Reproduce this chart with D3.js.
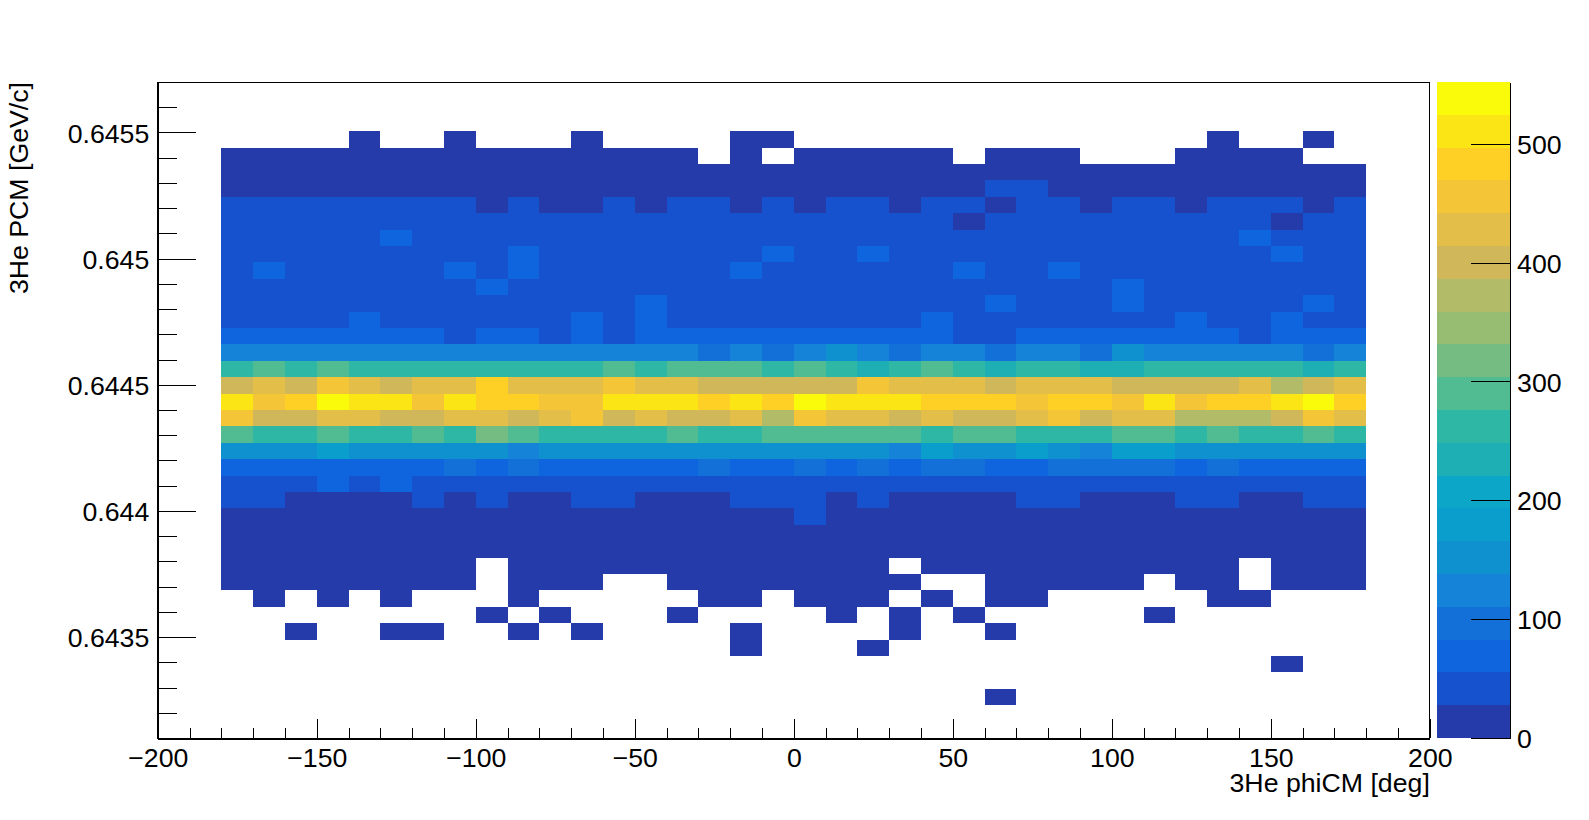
<!DOCTYPE html>
<html>
<head>
<meta charset="utf-8">
<script src="https://cdn.jsdelivr.net/npm/d3@7"></script>
<style>
    html, body { margin: 0; padding: 0; background: #fff; }
    svg { display: block; }
    text { font-family: "Liberation Sans", sans-serif; font-size: 26.7px; fill: #000; }
    line, path, .frame { shape-rendering: crispEdges; }
</style>
</head>
<body>
<svg id="graph" width="1589" height="820"></svg>
<script>
const xMin = -200, xMax = 200;
const yMin = 0.6431, yMax = 0.6457;
const zMax = 552;

const xMajorTicks = [-200, -150, -100, -50, 0, 50, 100, 150, 200];
const yMajorTicks = [0.6435, 0.644, 0.6445, 0.645, 0.6455];
const zTicks = [0, 100, 200, 300, 400, 500];

const xBinStart = -180, xBinWidth = 10;
const yBinWidth = 0.000065;
const yFirstRowTop = 0.645505;

// bin contents, top row first, 36 phi bins per row, 0 = empty bin
const countRows = [
    [0,0,0,0,14,0, 0,14,0,0,0,14, 0,0,0,0,14,14, 0,0,0,0,0,0, 0,0,0,0,0,0, 0,14,0,0,14,0],
    [14,14,14,14,14,14, 14,14,14,14,14,14, 14,14,14,0,14,0, 14,14,14,14,14,0, 14,14,14,0,0,0, 14,14,14,14,0,0],
    [14,14,14,14,14,14, 14,14,14,14,14,14, 14,14,14,14,14,14, 14,14,14,14,14,14, 14,14,14,14,14,14, 14,14,14,14,14,14],
    [14,14,14,14,14,14, 14,14,14,14,14,14, 14,14,14,14,14,14, 14,14,14,14,14,14, 41,41,14,14,14,14, 14,14,14,14,14,14],
    [41,41,41,41,41,41, 41,41,14,41,14,14, 41,14,41,41,14,41, 14,41,41,14,41,41, 14,41,41,14,41,41, 14,41,41,41,14,41],
    [41,41,41,41,41,41, 41,41,41,41,41,41, 41,41,41,41,41,41, 41,41,41,41,41,14, 41,41,41,41,41,41, 41,41,41,14,41,41],
    [41,41,41,41,41,69, 41,41,41,41,41,41, 41,41,41,41,41,41, 41,41,41,41,41,41, 41,41,41,41,41,41, 41,41,69,41,41,41],
    [41,41,41,41,41,41, 41,41,41,69,41,41, 41,41,41,41,41,69, 41,41,69,41,41,41, 41,41,41,41,41,41, 41,41,41,69,41,41],
    [41,69,41,41,41,41, 41,69,41,69,41,41, 41,41,41,41,69,41, 41,41,41,41,41,69, 41,41,69,41,41,41, 41,41,41,41,41,41],
    [41,41,41,41,41,41, 41,41,69,41,41,41, 41,41,41,41,41,41, 41,41,41,41,41,41, 41,41,41,41,69,41, 41,41,41,41,41,41],
    [41,41,41,41,41,41, 41,41,41,41,41,41, 41,69,41,41,41,41, 41,41,41,41,41,41, 69,41,41,41,69,41, 41,41,41,41,69,41],
    [41,41,41,41,69,41, 41,41,41,41,41,69, 41,69,41,41,41,41, 41,41,41,41,69,41, 41,41,41,41,41,41, 69,41,41,69,41,41],
    [69,69,69,69,69,69, 69,41,69,69,41,69, 41,69,69,69,69,69, 69,69,69,69,69,41, 41,69,69,69,69,69, 69,69,41,69,69,69],
    [124,124,124,124,124,124, 124,124,124,124,124,124, 124,124,124,97,124,97, 124,152,124,97,124,124, 97,124,124,97,152,124, 124,124,124,124,97,124],
    [262,290,262,290,262,262, 262,262,262,262,262,262, 290,262,290,290,290,262, 290,262,234,262,290,262, 234,262,262,234,234,262, 262,262,262,262,234,262],
    [400,428,400,455,428,400, 428,428,483,428,428,428, 455,428,428,400,400,400, 400,400,455,428,428,428, 400,428,428,428,400,400, 400,400,428,372,400,428],
    [510,455,483,538,510,510, 455,510,483,483,455,455, 510,510,510,483,510,483, 538,510,510,510,483,483, 483,455,483,483,455,510, 455,483,483,510,538,483],
    [455,400,400,428,428,400, 400,428,428,400,428,455, 400,428,400,400,428,372, 455,428,428,400,428,400, 400,428,455,400,428,428, 372,372,372,400,455,428],
    [290,262,262,290,262,262, 290,262,317,290,262,262, 262,262,290,262,262,290, 290,290,290,290,262,290, 290,262,262,262,290,290, 262,290,262,262,290,262],
    [152,152,152,179,152,152, 152,152,152,124,152,152, 152,152,152,152,152,152, 152,152,152,124,179,152, 152,179,152,124,179,179, 152,152,152,152,152,152],
    [69,69,69,69,69,69, 69,97,69,97,69,69, 69,69,69,97,69,69, 97,69,97,69,97,97, 69,69,97,97,97,97, 69,97,69,69,69,69],
    [41,41,41,69,41,69, 41,41,41,41,41,41, 41,41,41,41,41,41, 41,41,41,41,41,41, 41,41,41,41,41,41, 41,41,41,41,41,41],
    [41,41,14,14,14,14, 41,14,41,14,14,41, 41,14,14,14,41,41, 41,14,41,14,14,14, 14,41,41,14,14,14, 41,41,14,14,41,41],
    [14,14,14,14,14,14, 14,14,14,14,14,14, 14,14,14,14,14,14, 41,14,14,14,14,14, 14,14,14,14,14,14, 14,14,14,14,14,14],
    [14,14,14,14,14,14, 14,14,14,14,14,14, 14,14,14,14,14,14, 14,14,14,14,14,14, 14,14,14,14,14,14, 14,14,14,14,14,14],
    [14,14,14,14,14,14, 14,14,14,14,14,14, 14,14,14,14,14,14, 14,14,14,14,14,14, 14,14,14,14,14,14, 14,14,14,14,14,14],
    [14,14,14,14,14,14, 14,14,0,14,14,14, 14,14,14,14,14,14, 14,14,14,0,14,14, 14,14,14,14,14,14, 14,14,0,14,14,14],
    [14,14,14,14,14,14, 14,14,0,14,14,14, 0,0,14,14,14,14, 14,14,14,14,0,0, 14,14,14,14,14,0, 14,14,0,14,14,14],
    [0,14,0,14,0,14, 0,0,0,14,0,0, 0,0,0,14,14,0, 14,14,14,0,14,0, 14,14,0,0,0,0, 0,14,14,0,0,0],
    [0,0,0,0,0,0, 0,0,14,0,14,0, 0,0,14,0,0,0, 0,14,0,14,0,14, 0,0,0,0,0,14, 0,0,0,0,0,0],
    [0,0,14,0,0,14, 14,0,0,14,0,14, 0,0,0,0,14,0, 0,0,0,14,0,0, 14,0,0,0,0,0, 0,0,0,0,0,0],
    [0,0,0,0,0,0, 0,0,0,0,0,0, 0,0,0,0,14,0, 0,0,14,0,0,0, 0,0,0,0,0,0, 0,0,0,0,0,0],
    [0,0,0,0,0,0, 0,0,0,0,0,0, 0,0,0,0,0,0, 0,0,0,0,0,0, 0,0,0,0,0,0, 0,0,0,14,0,0],
    [0,0,0,0,0,0, 0,0,0,0,0,0, 0,0,0,0,0,0, 0,0,0,0,0,0, 0,0,0,0,0,0, 0,0,0,0,0,0],
    [0,0,0,0,0,0, 0,0,0,0,0,0, 0,0,0,0,0,0, 0,0,0,0,0,0, 14,0,0,0,0,0, 0,0,0,0,0,0],
];

// contour colours, lowest first
const contourColors = [
    "#253ba9", "#1652ce", "#0f65de", "#1270d8", "#1483d8",
    "#0f91d0", "#0a9ecc", "#0ca7c8", "#1dafb4", "#2eb7a4",
    "#51bb92", "#74bc82", "#96bd72", "#b2bc68", "#d0b85a",
    "#e3be48", "#f4c537", "#fed025", "#fce515", "#fafb0b",
];

const W = 1589, H = 820;
const padL = 157.8, padR = 1429.8, padT = H * 0.1, padB = H * 0.9;
const barLeft = 1437, barRight = W * 0.95;

const svg = d3.select("#graph");
const x = d3.scaleLinear().domain([xMin, xMax]).range([padL, padR]);
const y = d3.scaleLinear().domain([yMin, yMax]).range([padB, padT]);
const z = d3.scaleLinear().domain([0, zMax]).range([padB, padT]);
const color = d3.scaleQuantize().domain([0, zMax]).range(contourColors);

// cells
countRows.forEach((row, k) => {
    const yTop = yFirstRowTop - k * yBinWidth;
    svg.append("g")
        .selectAll("rect")
        .data(row.map((v, c) => ({ v, c })).filter((d) => d.v > 0))
        .join("rect")
        .attr("x", (d) => x(xBinStart + d.c * xBinWidth))
        .attr("y", y(yTop))
        .attr("width", (d) => x(xBinStart + (d.c + 1) * xBinWidth) - x(xBinStart + d.c * xBinWidth))
        .attr("height", y(yTop - yBinWidth) - y(yTop))
        .attr("fill", (d) => color(d.v))
        .attr("shape-rendering", "crispEdges");
});

// colour bar
svg.append("g")
    .selectAll("rect")
    .data(contourColors)
    .join("rect")
    .attr("x", barLeft)
    .attr("width", barRight - barLeft)
    .attr("y", (d) => z(color.invertExtent(d)[1]))
    .attr("height", (d) => z(color.invertExtent(d)[0]) - z(color.invertExtent(d)[1]))
    .attr("fill", (d) => d)
    .attr("shape-rendering", "crispEdges");

// frame, top and right are thinner than the axes
svg.append("rect")
    .attr("class", "frame")
    .attr("x", padL)
    .attr("y", padT)
    .attr("width", padR - padL)
    .attr("height", padB - padT)
    .attr("fill", "none")
    .attr("stroke", "#000")
    .attr("stroke-width", 1);

const xMinor = d3.range(xMin, xMax + 1, 10).filter((t) => !xMajorTicks.includes(t));
const yMinor = d3.range(0, 26).map((i) => +(yMin + i * 0.0001).toFixed(4)).filter((t) => !yMajorTicks.includes(t));

svg.append("g")
    .attr("transform", `translate(0,${padB})`)
    .call(d3.axisBottom(x).tickValues(xMinor).tickSize(-10).tickFormat(""))
    .call((g) => g.select(".domain").remove());
const xAxis = svg.append("g")
    .attr("transform", `translate(0,${padB})`)
    .call(d3.axisBottom(x).tickValues(xMajorTicks).tickSizeOuter(0).tickSizeInner(-19.5).tickPadding(0).tickFormat(d3.format("d")));
xAxis.selectAll("text").attr("dy", null).attr("y", 28.5);

svg.append("g")
    .attr("transform", `translate(${padL},0)`)
    .call(d3.axisLeft(y).tickValues(yMinor).tickSize(-19).tickFormat(""))
    .call((g) => g.select(".domain").remove());
const yAxis = svg.append("g")
    .attr("transform", `translate(${padL},0)`)
    .call(d3.axisLeft(y).tickValues(yMajorTicks).tickSizeOuter(0).tickSizeInner(-38.5).tickFormat((d) => String(d)));
yAxis.selectAll("text").attr("x", -8.5).attr("dy", "0.36em");

[xAxis, yAxis].forEach((g) => g.select(".domain").attr("stroke-width", 2));
svg.selectAll(".tick line").attr("stroke-width", 1);

// colour bar axis
const zAxis = svg.append("g")
    .attr("transform", `translate(${barRight},0)`)
    .call(d3.axisRight(z).tickValues(zTicks).tickSizeOuter(0).tickSizeInner(-38.5).tickPadding(0).tickFormat(d3.format("d")));
zAxis.selectAll("text").attr("x", 7.5).attr("dy", "0.36em");

svg.selectAll("g").attr("font-family", null).attr("font-size", null);

// titles
svg.append("text")
    .attr("x", padR)
    .attr("y", 791.5)
    .attr("text-anchor", "end")
    .text("3He phiCM [deg]");
svg.append("text")
    .attr("transform", `translate(28,${padT}) rotate(-90)`)
    .attr("text-anchor", "end")
    .text("3He PCM [GeV/c]");
</script>
</body>
</html>
